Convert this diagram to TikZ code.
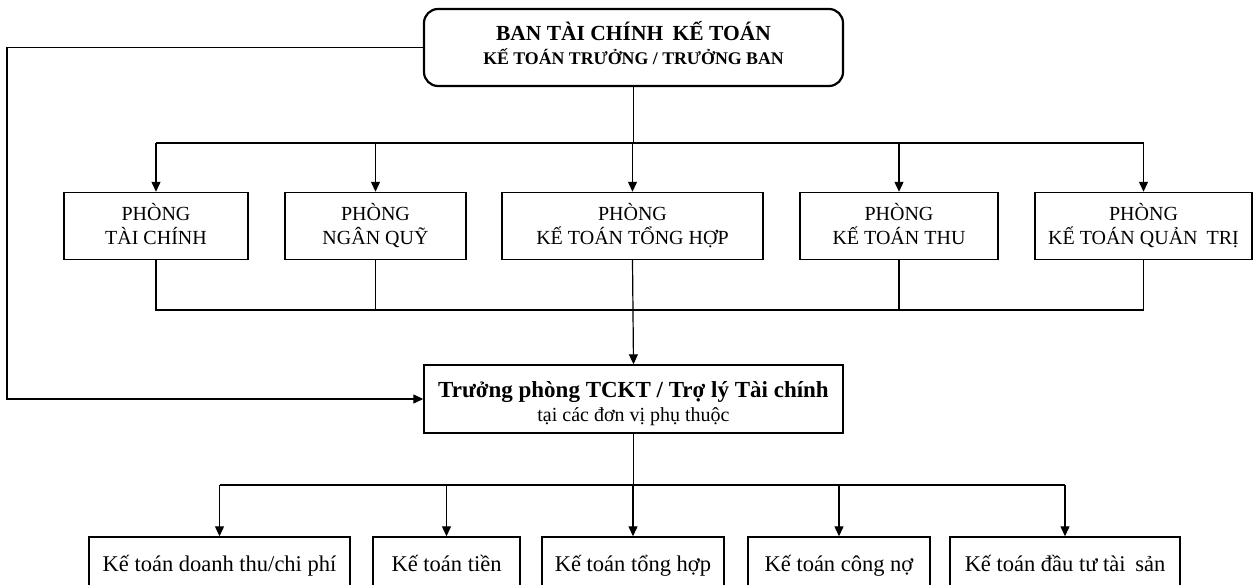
\documentclass[tikz,border=0pt]{standalone}
\usepackage{fontspec}
\setmainfont{Liberation Serif}
\usetikzlibrary{arrows.meta}
\newcommand\mystrut{\vphantom{ẨỢỵQ}}
\begin{document}
\begin{tikzpicture}[x=1pt,y=-1pt,
  box/.style={draw, line width=1.4pt, inner sep=0pt, align=center},
  conn/.style={line width=1.2pt},
  arr/.style={conn, -{Triangle[length=10pt,width=9pt]}},
  mid/.style={box, font=\fontsize{20}{23.5}\selectfont, minimum height=67pt},
  bot/.style={box, font=\fontsize{22.5}{26}\selectfont, minimum height=54pt},
]
\clip (0,0) rectangle (1254,585);
\fill[white] (0,0) rectangle (1254,585);

% top
\node[box, rounded corners=14pt, line width=2.2pt, minimum width=419pt, minimum height=77pt,
      font=\fontsize{21.5}{23.5}\selectfont\bfseries] (ban) at (633.5,47.5)
  {BAN TÀI CHÍNH\hspace{4pt} KẾ TOÁN\\{\fontsize{17.8}{23.5}\selectfont KẾ TOÁN TRƯỞNG / TRƯỞNG BAN\rule[-9.5pt]{0pt}{0pt}}};

% middle row
\node[mid, minimum width=184pt] (p1) at (156,226) {PHÒNG\\TÀI CHÍNH\mystrut};
\node[mid, minimum width=181pt] (p2) at (375.5,226) {PHÒNG\\NGÂN QUỸ\mystrut};
\node[mid, minimum width=261pt] (p3) at (632.5,226) {PHÒNG\\KẾ TOÁN TỔNG HỢP\mystrut};
\node[mid, minimum width=198pt] (p4) at (899,226) {PHÒNG\\KẾ TOÁN THU\mystrut};
\node[mid, minimum width=217pt] (p5) at (1143.5,226) {PHÒNG\\KẾ TOÁN QUẢN\hspace{4pt} TRỊ\mystrut};

% unit head
\node[box, minimum width=419pt, minimum height=68pt, font=\fontsize{23}{24.5}\selectfont] (tp) at (633.5,399)
  {\rule{0pt}{25pt}\textbf{Trưởng phòng TCKT / Trợ lý Tài chính}\\{\fontsize{20}{24.5}\selectfont tại các đơn vị phụ thuộc}};

% bottom row
\node[bot, minimum width=261pt] (b1) at (219.5,564) {Kế toán doanh thu/chi phí\mystrut};
\node[bot, minimum width=147pt] (b2) at (446.5,564) {Kế toán tiền\mystrut};
\node[bot, minimum width=182pt] (b3) at (633,564) {Kế toán tổng hợp\mystrut};
\node[bot, minimum width=182pt] (b4) at (839,564) {Kế toán công nợ\mystrut};
\node[bot, minimum width=230pt] (b5) at (1065,564) {Kế toán đầu tư tài\hspace{4pt} sản\mystrut};

% top bus
\coordinate (tbus) at (0,143);
\draw[conn] (ban.south) -- (ban.south |- tbus);
\draw[conn] (p1.north |- tbus) -- (p5.north |- tbus);
\foreach \n in {p1,p2,p3,p4,p5} \draw[arr] (\n.north |- tbus) -- (\n.north);

% middle bus
\coordinate (mbus) at (0,310);
\draw[conn] (p1.south) -- (p1.south |- mbus) -- (p5.south |- mbus) -- (p5.south);
\draw[conn] (p2.south) -- (p2.south |- mbus);
\draw[conn] (p4.south) -- (p4.south |- mbus);
\draw[arr] (p3.south) -- (tp.north);

% left bypass
\coordinate (lx) at (7,0);
\draw[arr] (ban.west) -- (ban.west -| lx) |- (tp.west);

% bottom bus
\coordinate (bbus) at (0,485);
\draw[conn] (tp.south) -- (tp.south |- bbus);
\draw[conn] (b1.north |- bbus) -- (b5.north |- bbus);
\foreach \n in {b1,b2,b3,b4,b5} \draw[arr] (\n.north |- bbus) -- (\n.north);
\end{tikzpicture}
\end{document}
